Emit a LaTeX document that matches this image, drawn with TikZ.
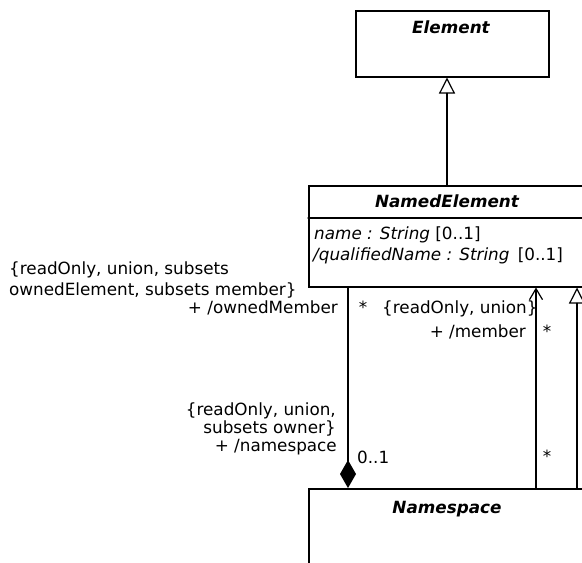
\documentclass[tikz,border=0pt]{standalone}
\usepackage{fontspec}
\setmainfont{DejaVu Sans}
\usetikzlibrary{arrows.meta,shadows}

\begin{document}
\begin{tikzpicture}[x=1pt,y=-1pt,line cap=round,
	every node/.style={font=\fontsize{16.8pt}{19pt}\selectfont,inner sep=0pt},
	classbox/.style={draw,line width=1.5pt,fill=white,rectangle,anchor=north west,
		drop shadow={shadow xshift=1.5pt,shadow yshift=-1.5pt,fill=black!30,opacity=1}},
	classname/.style={font=\fontsize{16.8pt}{19pt}\selectfont\bfseries\itshape,anchor=base},
	gen/.style={line width=1.2pt,-{Triangle[open,length=16pt,width=16pt,line width=1.2pt]}},
	nav/.style={line width=1.2pt,-{Straight Barb[length=11pt,width=13pt,line width=1.2pt]}},
	comp/.style={line width=1.2pt,{Diamond[length=28pt,width=16pt]}-}]
	\useasboundingbox (0,0) rectangle (582,563);
	\clip (0,0) rectangle (582,563);
	% classes
	\node[classbox,minimum width=193pt,minimum height=66pt] (element) at (355,10) {};
	\node[classname] at (451,33) {Element};
	\node[classbox,minimum width=279pt,minimum height=101pt] (namedElement) at (308,185) {};
	\draw[line width=1.2pt] ([yshift=-33pt]namedElement.north west) -- ([yshift=-33pt]namedElement.north east);
	\node[classname] at (447,207) {NamedElement};
	\node[anchor=base west] (attrName) at (314,239) {\itshape name : String \upshape[0..1]};
	\node[anchor=base west] (attrQName) at (313,260) {\itshape /qualifiedName : String \hspace{3pt}\upshape[0..1]};
	\node[classbox,minimum width=279pt,minimum height=120pt] (namespace) at (308,488) {};
	\node[classname] at (447,513) {Namespace};
	% where the lines run
	\coordinate (genx) at (447,0);
	\coordinate (ownx) at (348,0);
	\coordinate (memx) at (536,0);
	\coordinate (subx) at (577,0);
	\draw[gen] (namedElement.north -| genx) -- (element.south -| genx);
	\draw[comp] (namespace.north -| ownx) -- (namedElement.south -| ownx);
	\draw[nav] (namespace.north -| memx) -- (namedElement.south -| memx);
	\draw[gen] (namespace.north -| subx) -- (namedElement.south -| subx);
	% ends of the associations (base = last line)
	\node[anchor=base west,align=left,font=\fontsize{16.8pt}{21pt}\selectfont] (ownedCons) at (9,295) {\{readOnly, union, subsets\\ownedElement, subsets member\}};
	\node[anchor=base east] (ownedRole) at (338,313) {+ /ownedMember};
	\node[anchor=base] (ownedMult) at (363,313) {*};
	\node[anchor=base west] (memberCons) at (382,313) {\{readOnly, union\}};
	\node[anchor=base east] (memberRole) at (526,337) {+ /member};
	\node[anchor=base] (memberMult) at (547,337) {*};
	\node[anchor=base east,align=right,font=\fontsize{16.8pt}{18pt}\selectfont] (nsCons) at (336,433) {\{readOnly, union,\\subsets owner\}};
	\node[anchor=base east] (nsRole) at (337,451) {+ /namespace};
	\node[anchor=base west] (nsMult) at (357,463) {0..1};
	\node[anchor=base] (subMult) at (547,462) {*};
\end{tikzpicture}
\end{document}
